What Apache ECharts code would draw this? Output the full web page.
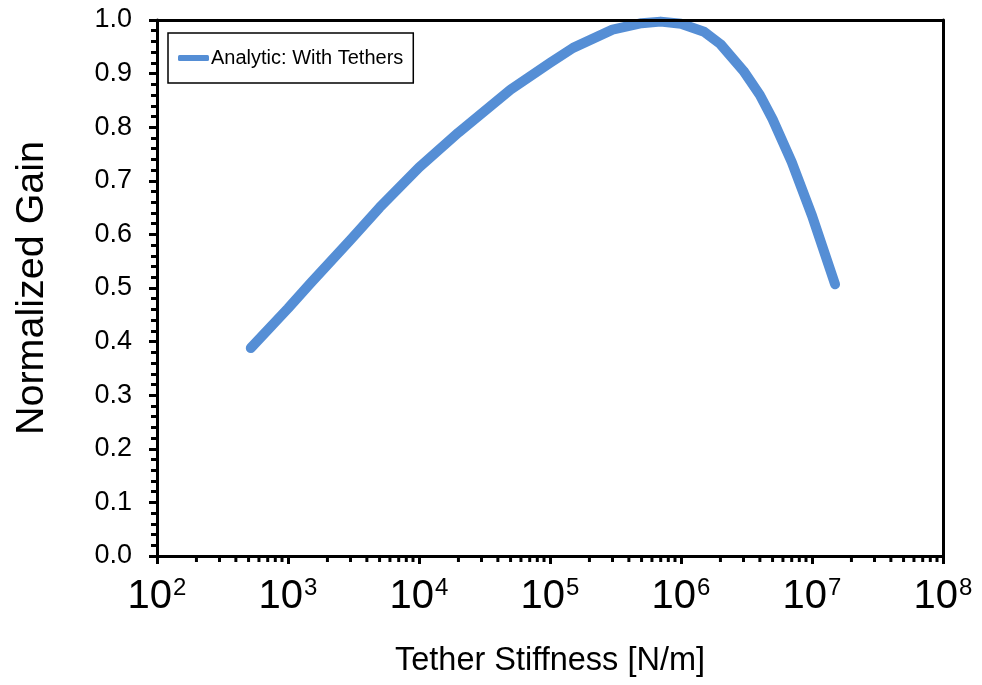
<!DOCTYPE html>
<html>
<head>
<meta charset="utf-8">
<script src="https://cdn.jsdelivr.net/npm/echarts@6/dist/echarts.min.js"></script>
<style>html,body{margin:0;padding:0;background:#fff}#c{width:982px;height:685px}</style>
</head>
<body>
<div id="c"></div>
<script>
// Data
const stiffness = [520, 1000, 1500, 3000, 5000, 10000, 20000, 50000, 100000, 150000, 300000, 500000, 700000, 1000000, 1500000, 2000000, 3000000, 4000000, 5000000, 7000000, 10000000, 15000000];
const gain = [0.388, 0.462, 0.51, 0.59, 0.65, 0.725, 0.79, 0.87, 0.92, 0.948, 0.982, 0.994, 0.997, 0.993, 0.978, 0.955, 0.905, 0.86, 0.815, 0.735, 0.635, 0.507];
const seriesName = 'Analytic: With Tethers';
const xMinorTickValues = [];
[100, 1000, 10000, 100000, 1000000, 10000000].forEach(d => { for (let m = 2; m <= 9; m++) xMinorTickValues.push(d * m); });

const font = '"Liberation Sans", Arial, sans-serif';
const chart = echarts.init(document.getElementById('c'), null, {renderer: 'canvas'});
chart.setOption({
  animation: false,
  backgroundColor: '#fff',
  grid: {left: 157, right: 39, top: 20, bottom: 129, show: false},
  legend: {
    data: [seriesName],
    left: 168, top: 33,
    padding: [15, 10, 15, 10],
    borderColor: '#000', borderWidth: 1.5,
    icon: 'roundRect', itemWidth: 31, itemHeight: 6, itemGap: 0,
    textStyle: {fontFamily: font, fontSize: 20, color: '#000', padding: [0, 0, 0, -3]}
  },
  xAxis: [{
    type: 'log', logBase: 10, min: 100, max: 100000000,
    name: 'Tether Stiffness [N/m]', nameLocation: 'middle', nameGap: 89,
    nameTextStyle: {fontFamily: font, fontSize: 32.5, color: '#000'},
    axisLine: {show: true, onZero: false, lineStyle: {color: '#000', width: 3}},
    axisTick: {show: true, inside: false, length: 8, lineStyle: {color: '#000', width: 3}},
    splitLine: {show: false},
    axisLabel: {
      margin: 20, color: '#000',
      formatter: v => '{b|10}{s|' + Math.round(Math.log10(v)) + '}',
      rich: {
        b: {fontFamily: font, fontSize: 40, color: '#000'},
        s: {fontFamily: font, fontSize: 24, color: '#000', padding: [0, 0, 18, 1]}
      }
    },
    z: 3
  }, {
    type: 'log', logBase: 10, min: 100, max: 100000000, position: 'top',
    axisLine: {show: true, onZero: false, lineStyle: {color: '#000', width: 3}},
    axisTick: {show: false}, axisLabel: {show: false}, splitLine: {show: false}, z: 5
  }],
  yAxis: [{
    type: 'value', min: 0, max: 1, interval: 0.1,
    name: 'Normalized Gain', nameLocation: 'middle', nameGap: 105,
    nameTextStyle: {fontFamily: font, fontSize: 39.5, color: '#000'},
    axisLine: {show: true, onZero: false, lineStyle: {color: '#000', width: 3}},
    axisTick: {show: true, inside: false, length: 8, lineStyle: {color: '#000', width: 3}},
    minorTick: {show: true, splitNumber: 5, length: 6, lineStyle: {color: '#000', width: 3}},
    splitLine: {show: false}, minorSplitLine: {show: false},
    axisLabel: {margin: 25, fontFamily: font, fontSize: 27, color: '#000', formatter: v => v.toFixed(1)},
    z: 3
  }, {
    type: 'value', min: 0, max: 1, position: 'right',
    axisLine: {show: true, onZero: false, lineStyle: {color: '#000', width: 3}},
    axisTick: {show: false}, axisLabel: {show: false}, splitLine: {show: false}, z: 5
  }],
  series: [{
    name: seriesName, type: 'line', xAxisIndex: 0, yAxisIndex: 0,
    data: stiffness.map((k, i) => [k, gain[i]]),
    showSymbol: false, symbol: 'none', smooth: false, clip: false,
    lineStyle: {color: '#558ed5', width: 10, cap: 'round', join: 'round'},
    itemStyle: {color: '#558ed5'},
    z: 2
  }, {
    name: 'xMinorTicks', type: 'custom', xAxisIndex: 0, yAxisIndex: 0,
    data: xMinorTickValues.map(v => [v, 0]),
    clip: false, silent: true,
    renderItem: (params, api) => {
      const p = api.coord([api.value(0), 0]);
      return {type: 'line', shape: {x1: p[0], y1: p[1], x2: p[0], y2: p[1] + 6}, style: {stroke: '#000', lineWidth: 3}};
    },
    z: 3
  }]
});
</script>
</body>
</html>
